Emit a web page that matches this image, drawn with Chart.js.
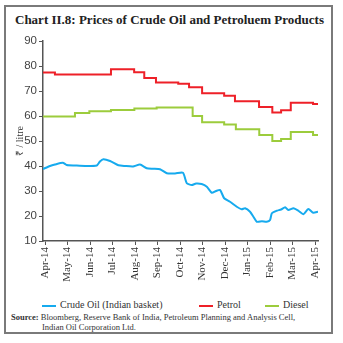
<!DOCTYPE html>
<html>
<head>
<meta charset="utf-8">
<script src="https://cdn.jsdelivr.net/npm/chart.js@4.4.0/dist/chart.umd.min.js"></script>
<style>
  body { margin: 0; background: #fff; }
  #wrap { position: relative; width: 343px; height: 343px; overflow: hidden; }
  #frame { position: absolute; left: 4px; top: 5px; width: 325px; height: 325px; border: 2px solid #7a7a7a; }
  #title { position: absolute; left: 15px; top: 12px; font: bold 13px "Liberation Serif", serif; color: #222; white-space: nowrap; }
  #box { position: absolute; left: 0; top: 0; width: 343px; height: 291px; }
  #legend { position: absolute; left: 0; top: 299px; width: 343px; height: 14px; font: 10px "Liberation Serif", serif; color: #333; }
  #legend span { position: absolute; top: 0; white-space: nowrap; line-height: 12px; }
  #legend i { display: inline-block; width: 14px; height: 2px; margin-right: 4px; vertical-align: middle; }
  #source { position: absolute; left: 11px; top: 312px; font: 8.5px "Liberation Serif", serif; color: #333; line-height: 10px; white-space: nowrap; }
</style>
</head>
<body>
<div id="wrap">
  <div id="frame"></div>
  <div id="title">Chart II.8: Prices of Crude Oil and Petroluem Products</div>
  <div id="box"><canvas id="oilChart"></canvas></div>
  <div id="legend"></div>
  <div id="source"><b>Source:</b> Bloomberg, Reserve Bank of India, Petroleum Planning and Analysis Cell,<br><span style="padding-left:31px">Indian Oil Corporation Ltd.</span></div>
</div>
<script>
// Mois (0 = avr. 2014)
const months = ['Apr-14', 'May-14', 'Jun-14', 'Jul-14', 'Aug-14', 'Sep-14', 'Oct-14',
                'Nov-14', 'Dec-14', 'Jan-15', 'Feb-15', 'Mar-15', 'Apr-15'];

// Brut (panier indien), ₹/litre
const crudeX = [-0.09, 0.22, 0.44, 0.79, 0.96, 1.33, 1.78, 2.3, 2.44, 2.59, 2.89, 3.26, 3.56, 3.91,
                4.22, 4.52, 4.8, 5.11, 5.41, 5.78, 6.13, 6.3, 6.52, 6.71, 6.96, 7.19, 7.41, 7.6,
                7.78, 7.96, 8.22, 8.52, 8.74, 8.89, 9.11, 9.26, 9.41, 9.64, 9.85, 10.0, 10.08,
                10.3, 10.49, 10.67, 10.81, 11.04, 11.26, 11.48, 11.7, 11.92, 12.13];
const crudeY = [38.8, 40.0, 40.6, 41.3, 40.4, 40.2, 40.0, 40.2, 41.8, 42.7, 42.0, 40.3, 40.0, 39.8,
                40.6, 39.1, 38.9, 38.7, 37.1, 37.0, 37.3, 33.1, 32.4, 33.0, 32.8, 31.7, 29.3, 30.0,
                30.4, 27.1, 25.7, 23.7, 22.7, 23.1, 21.7, 19.7, 17.7, 17.9, 17.7, 18.4, 21.1,
                22.1, 22.6, 23.5, 22.4, 23.1, 22.1, 20.7, 22.8, 21.3, 21.7];

// Essence (prix par palier)
const petrolX = [-0.09, 0.44, 2.93, 3.96, 4.41, 4.93, 5.92, 6.4, 6.98, 7.96, 8.44, 9.51, 10.1,
                 10.49, 10.92, 11.91, 12.13];
const petrolY = [77.4, 76.6, 78.7, 77.5, 75.2, 73.4, 72.9, 71.5, 69.1, 68.1, 65.9, 63.6, 61.4,
                 62.3, 65.3, 64.8, 64.8];

// Diesel (prix par palier)
const dieselX = [-0.09, 1.33, 1.97, 2.93, 3.97, 4.96, 6.56, 6.98, 7.96, 8.48, 9.52, 10.1, 10.49,
                 10.92, 11.91, 12.13];
const dieselY = [59.8, 61.2, 61.9, 62.4, 63.0, 63.4, 60.0, 57.5, 56.6, 54.7, 52.4, 50.0, 50.8,
                 53.6, 52.4, 52.4];

const yTicks = [10, 20, 30, 40, 50, 60, 70, 80, 90];

const pts = (xs, ys) => xs.map((x, i) => ({ x: x, y: ys[i] }));
const axisColor = '#555';
const serif = "'Liberation Serif', serif";

const ctx = document.getElementById('oilChart').getContext('2d');
const chart = new Chart(ctx, {
    type: 'line',
    data: {
        datasets: [{
            label: 'Crude Oil (Indian basket)',
            data: pts(crudeX, crudeY),
            borderColor: '#16aaee',
            borderWidth: 2,
            tension: 0.2
        }, {
            label: 'Petrol',
            data: pts(petrolX, petrolY),
            borderColor: '#ee2028',
            borderWidth: 2,
            stepped: 'before'
        }, {
            label: 'Diesel',
            data: pts(dieselX, dieselY),
            borderColor: '#9ccc3c',
            borderWidth: 2,
            stepped: 'before'
        }]
    },
    options: {
        responsive: true,
        maintainAspectRatio: false,
        animation: false,
        elements: { point: { radius: 0 } },
        layout: { padding: { top: 41, right: 25, left: 0, bottom: 0 } },
        plugins: {
            tooltip: { enabled: false },
            legend: { display: false }
        },
        scales: {
            x: {
                type: 'linear',
                min: -0.09,
                max: 12.13,
                afterBuildTicks: s => { s.ticks = months.map((m, i) => ({ value: i })); },
                afterFit: s => { s.height = 50; },
                border: { color: axisColor, width: 1.5 },
                grid: { drawOnChartArea: false, tickLength: 4, color: axisColor },
                ticks: {
                    autoSkip: false,
                    minRotation: 90,
                    maxRotation: 90,
                    padding: 2,
                    color: '#333',
                    font: { family: serif, size: 11 },
                    callback: v => months[v]
                }
            },
            y: {
                min: 10,
                max: 90,
                afterBuildTicks: s => { s.ticks = yTicks.map(v => ({ value: v })); },
                afterFit: s => { s.width = 43; },
                border: { color: axisColor, width: 1.5 },
                grid: { drawOnChartArea: false, tickLength: 4, color: axisColor },
                title: {
                    display: true,
                    text: '₹ / litre',
                    color: '#333',
                    padding: { top: 14, bottom: 0 },
                    font: { family: serif, size: 10 }
                },
                ticks: {
                    padding: 2,
                    color: '#444',
                    font: { family: 'Liberation Sans', size: 11.5 }
                }
            }
        }
    }
});

// Légende (libellés et couleurs tirés des séries)
const legendLeft = [42, 199, 265];
document.getElementById('legend').innerHTML = chart.data.datasets.map((ds, i) =>
    `<span style="left:${legendLeft[i]}px"><i style="background:${ds.borderColor}"></i>${ds.label}</span>`
).join('');
</script>
</body>
</html>
